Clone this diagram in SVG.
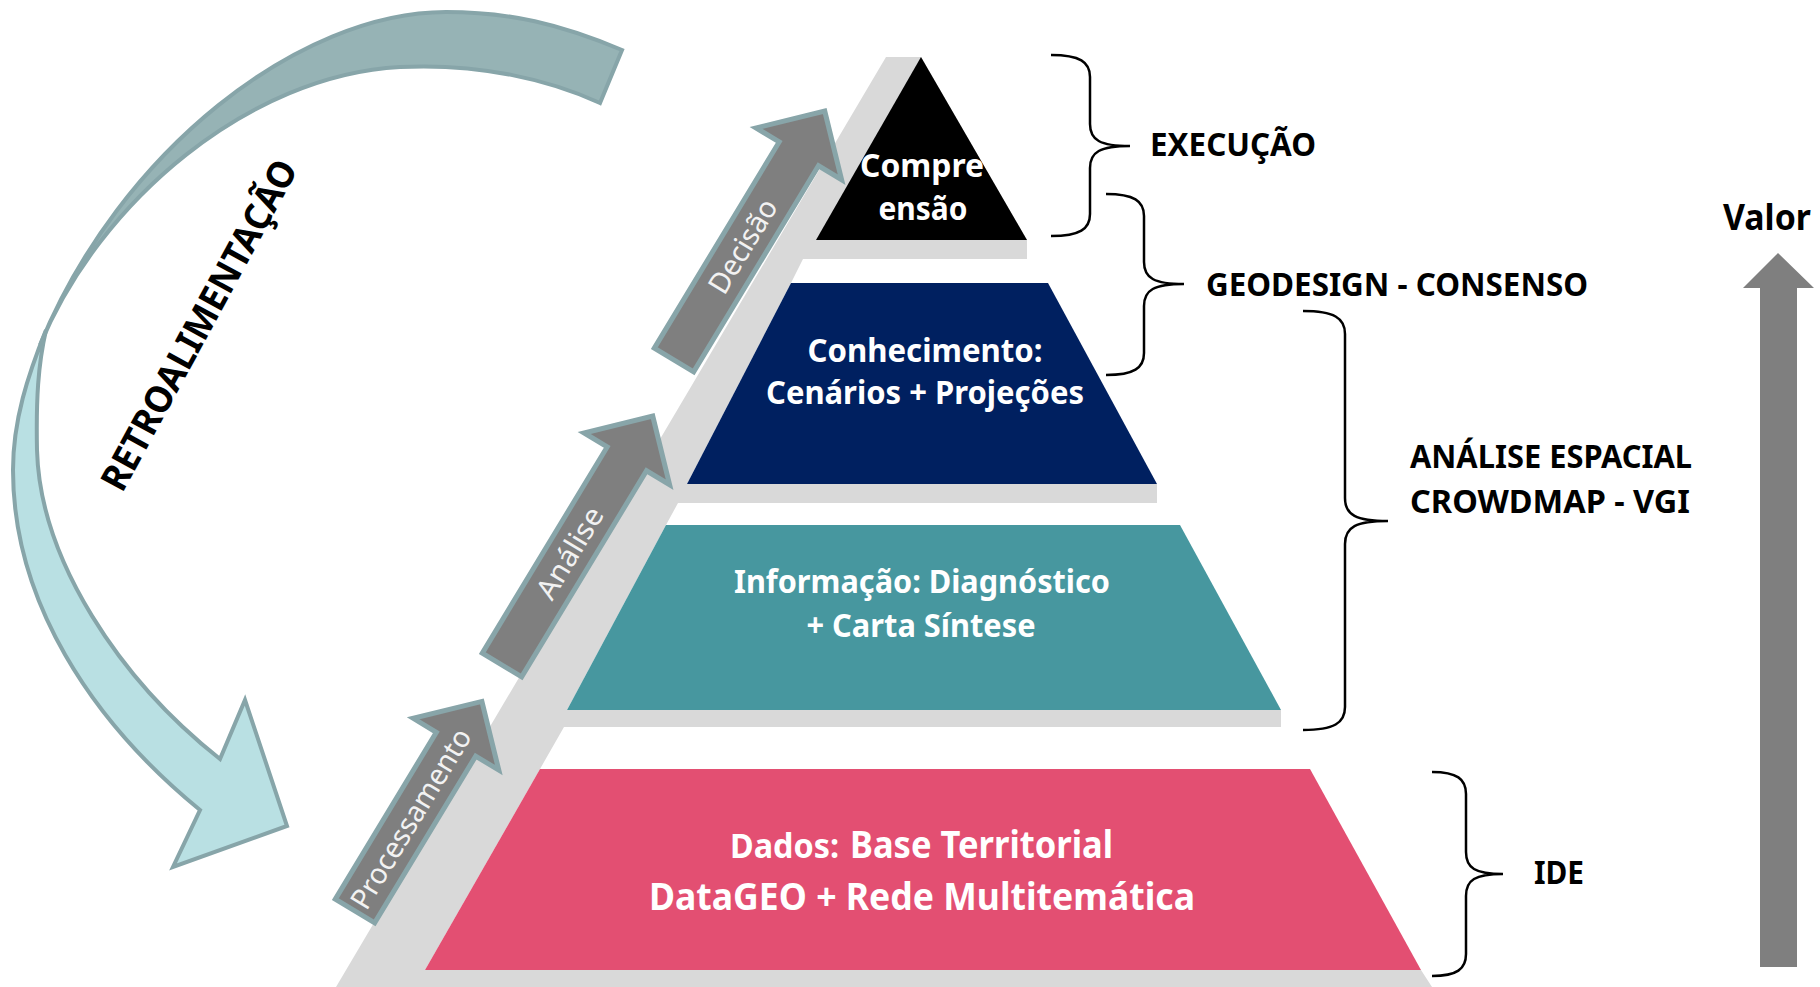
<svg xmlns="http://www.w3.org/2000/svg" width="1820" height="987" viewBox="0 0 1820 987">
<defs>
<style>
.t{font-family:"Noto Sans","Open Sans","DejaVu Sans",sans-serif;font-weight:bold;}
.w{fill:#FFFFFF;}
.k{fill:#000000;}
.al{font-family:"Noto Sans","Open Sans","DejaVu Sans",sans-serif;font-weight:normal;fill:#F2F2F2;font-size:29px;}
.blk{fill:#7F7F7F;stroke:#88A5A9;stroke-width:5;stroke-linejoin:miter;}
.brace{fill:none;stroke:#000000;stroke-width:2.5;}
</style>
</defs>
<rect width="1820" height="987" fill="#FFFFFF"/>

<g id="retroalimentacao">
<path d="M46,330 C28,375 13,420 13,470 C13,600 90,720 200,810 L173,867 L287,826 L245,700 L220,759 C120,680 40,560 37,450 C36,400 38,365 46,330 Z" fill="#B9E0E3" stroke="#87A5A9" stroke-width="4" stroke-linejoin="miter"/>
<path d="M622,50 C560,24 510,12 446,12 C300,12 120,150 40,345 C100,200 250,75 400,67 C480,63 550,80 600,103 Z" fill="#96B3B5" stroke="#87A5A9" stroke-width="4"/>
<text class="t k" font-size="37" text-anchor="middle" transform="translate(199,325) rotate(-61.5)" x="0" y="13" textLength="370" lengthAdjust="spacingAndGlyphs">RETROALIMENTAÇÃO</text>
</g>

<g id="pyramid-side">
<polygon points="886,57 921,57 1027,240 1027,259 803,259 791,283 687,484 1157,484 1157,503 678,503 666,525 567,710 1281,710 1281,727 564,727 540,769 425,970 1421,970 1432,987 336,987" fill="#D9D9D9"/>
</g>

<g id="layer-compreensao">
<polygon points="921,57 1027,240 816,240" fill="#000000"/>
<text class="t w" font-size="33" text-anchor="middle" x="922" y="177" textLength="124" lengthAdjust="spacingAndGlyphs">Compre</text>
<text class="t w" font-size="33" text-anchor="middle" x="923" y="220" textLength="89" lengthAdjust="spacingAndGlyphs">ensão</text>
</g>

<g id="layer-conhecimento">
<polygon points="791,283 1048,283 1157,484 687,484" fill="#002060"/>
<text class="t w" font-size="33" text-anchor="middle" x="925" y="362" textLength="235" lengthAdjust="spacingAndGlyphs">Conhecimento:</text>
<text class="t w" font-size="33" text-anchor="middle" x="925" y="404" textLength="318" lengthAdjust="spacingAndGlyphs">Cenários + Projeções</text>
</g>

<g id="layer-informacao">
<polygon points="666,525 1180,525 1281,710 567,710" fill="#47979F"/>
<text class="t w" font-size="33" text-anchor="middle" x="922" y="593" textLength="376" lengthAdjust="spacingAndGlyphs">Informação: Diagnóstico</text>
<text class="t w" font-size="33" text-anchor="middle" x="921" y="637" textLength="229" lengthAdjust="spacingAndGlyphs">+ Carta Síntese</text>
</g>

<g id="layer-dados">
<polygon points="540,769 1310,769 1421,970 425,970" fill="#E34F72"/>
<text class="t w" font-size="34" x="730" y="858" textLength="109" lengthAdjust="spacingAndGlyphs">Dados:</text>
<text class="t w" font-size="38" x="850" y="858" textLength="263" lengthAdjust="spacingAndGlyphs">Base Territorial</text>
<text class="t w" font-size="38" x="649" y="910" textLength="546" lengthAdjust="spacingAndGlyphs">DataGEO + Rede Multitemática</text>
</g>

<g id="connectors">
<g id="arrow-processamento" transform="translate(355,911) rotate(-58.8)">
<polygon class="blk" points="0,-23 195,-23 195,-50 245,0 195,50 195,23 0,23"/>
<text class="al" text-anchor="middle" x="108" y="10" textLength="205" lengthAdjust="spacingAndGlyphs">Processamento</text>
</g>
<g id="arrow-analise" transform="translate(502,665) rotate(-58.8)">
<polygon class="blk" points="0,-23 241,-23 241,-50 291,0 241,50 241,23 0,23"/>
<text class="al" text-anchor="middle" x="131" y="10" textLength="102" lengthAdjust="spacingAndGlyphs">Análise</text>
</g>
<g id="arrow-decisao" transform="translate(674,360) rotate(-58.8)">
<polygon class="blk" points="0,-23 241,-23 241,-50 291,0 241,50 241,23 0,23"/>
<text class="al" text-anchor="middle" x="133" y="10" textLength="105" lengthAdjust="spacingAndGlyphs">Decisão</text>
</g>
<path class="brace" d="M1051,55 C1080,55 1090,62 1090,77 L1090,124 C1090,140 1100,146 1130,146 C1100,146 1090,152 1090,168 L1090,214 C1090,229 1080,236 1051,236"/>
<path class="brace" d="M1106,194 C1134,194 1144,201 1144,216 L1144,262 C1144,278 1154,284 1184,284 C1154,284 1144,290 1144,306 L1144,353 C1144,368 1134,375 1106,375"/>
<path class="brace" d="M1303,311 C1334,311 1345,318 1345,334 L1345,498 C1345,515 1356,521 1388,521 C1356,521 1345,527 1345,544 L1345,707 C1345,723 1334,730 1303,730"/>
<path class="brace" d="M1432,772 C1457,772 1466,779 1466,794 L1466,852 C1466,868 1475,874 1503,874 C1475,874 1466,880 1466,896 L1466,954 C1466,969 1457,976 1432,976"/>
</g>

<g id="label-execucao">
<text class="t k" font-size="33" x="1150" y="156" textLength="166" lengthAdjust="spacingAndGlyphs">EXECUÇÃO</text>
</g>
<g id="label-geodesign">
<text class="t k" font-size="33" x="1206" y="296" textLength="382" lengthAdjust="spacingAndGlyphs">GEODESIGN - CONSENSO</text>
</g>
<g id="label-analise">
<text class="t k" font-size="33" x="1410" y="468" textLength="282" lengthAdjust="spacingAndGlyphs">ANÁLISE ESPACIAL</text>
<text class="t k" font-size="33" x="1410" y="513" textLength="280" lengthAdjust="spacingAndGlyphs">CROWDMAP - VGI</text>
</g>
<g id="label-ide">
<text class="t k" font-size="33" x="1534" y="884" textLength="50" lengthAdjust="spacingAndGlyphs">IDE</text>
</g>
<g id="valor">
<text class="t k" font-size="36" x="1723" y="230" textLength="88" lengthAdjust="spacingAndGlyphs">Valor</text>
<polygon points="1778,253 1814,288 1797,288 1797,967 1760,967 1760,288 1743,288" fill="#7F7F7F"/>
</g>
</svg>
